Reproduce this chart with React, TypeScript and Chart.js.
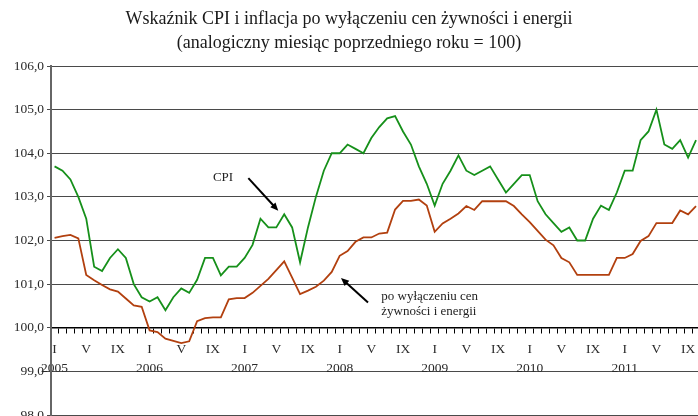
import React, { useEffect, useRef } from 'react';
import { Chart, registerables } from 'chart.js';

Chart.register(...registerables);

// ---- data (year-on-year indices, same month of previous year = 100) ----
const YEARS = [2005, 2006, 2007, 2008, 2009, 2010, 2011];
const MONTH_MARKS = ['I', '', '', '', 'V', '', '', '', 'IX', '', '', ''];

const CPI_2005 = [103.7, 103.6, 103.4, 103.0, 102.5, 101.4, 101.3, 101.6, 101.8, 101.6, 101.0, 100.7];
const CPI_2006 = [100.6, 100.7, 100.4, 100.7, 100.9, 100.8, 101.1, 101.6, 101.6, 101.2, 101.4, 101.4];
const CPI_2007 = [101.6, 101.9, 102.5, 102.3, 102.3, 102.6, 102.3, 101.5, 102.3, 103.0, 103.6, 104.0];
const CPI_2008 = [104.0, 104.2, 104.1, 104.0, 104.35, 104.6, 104.8, 104.85, 104.5, 104.2, 103.7, 103.3];
const CPI_2009 = [102.8, 103.3, 103.6, 103.95, 103.6, 103.5, 103.6, 103.7, 103.4, 103.1, 103.3, 103.5];
const CPI_2010 = [103.5, 102.9, 102.6, 102.4, 102.2, 102.3, 102.0, 102.0, 102.5, 102.8, 102.7, 103.1];
const CPI_2011 = [103.6, 103.6, 104.3, 104.5, 105.0, 104.2, 104.1, 104.3, 103.9, 104.3];

const CORE_2005 = [102.06, 102.1, 102.13, 102.05, 101.21, 101.09, 100.98, 100.88, 100.83, 100.67, 100.51, 100.48];
const CORE_2006 = [99.94, 99.9, 99.75, 99.7, 99.65, 99.69, 100.15, 100.22, 100.24, 100.24, 100.65, 100.68];
const CORE_2007 = [100.68, 100.8, 100.96, 101.12, 101.32, 101.52, 101.15, 100.77, 100.85, 100.94, 101.08, 101.28];
const CORE_2008 = [101.65, 101.76, 101.97, 102.07, 102.07, 102.16, 102.18, 102.71, 102.91, 102.91, 102.94, 102.8];
const CORE_2009 = [102.2, 102.39, 102.5, 102.62, 102.79, 102.7, 102.9, 102.9, 102.9, 102.9, 102.79, 102.6];
const CORE_2010 = [102.42, 102.22, 102.02, 101.89, 101.6, 101.5, 101.21, 101.21, 101.21, 101.21, 101.21, 101.6];
const CORE_2011 = [101.6, 101.69, 101.99, 102.1, 102.4, 102.4, 102.4, 102.69, 102.6, 102.79];

const CPI = [...CPI_2005, ...CPI_2006, ...CPI_2007, ...CPI_2008, ...CPI_2009, ...CPI_2010, ...CPI_2011];
const CORE = [...CORE_2005, ...CORE_2006, ...CORE_2007, ...CORE_2008, ...CORE_2009, ...CORE_2010, ...CORE_2011];

const TITLE_LINES = [
  'Wskaźnik CPI i inflacja po wyłączeniu cen żywności i energii',
  '(analogiczny miesiąc poprzedniego roku = 100)',
];
const CPI_NOTE = 'CPI';
const CORE_NOTE = ['po wyłączeniu cen', 'żywności i energii'];

const Y_MIN = 98;
const Y_MAX = 106;
const X_MIN = -0.45;
const X_MAX = 81.25;

const FONT = '"Liberation Serif", "Times New Roman", serif';

function drawArrow(ctx: CanvasRenderingContext2D, x1: number, y1: number, x2: number, y2: number) {
  const ang = Math.atan2(y2 - y1, x2 - x1);
  const head = 8;
  const half = 3.5;
  ctx.beginPath();
  ctx.moveTo(x1, y1);
  ctx.lineTo(x2 - Math.cos(ang) * head * 0.6, y2 - Math.sin(ang) * head * 0.6);
  ctx.stroke();
  ctx.beginPath();
  ctx.moveTo(x2, y2);
  ctx.lineTo(x2 - Math.cos(ang) * head - Math.sin(ang) * half, y2 - Math.sin(ang) * head + Math.cos(ang) * half);
  ctx.lineTo(x2 - Math.cos(ang) * head + Math.sin(ang) * half, y2 - Math.sin(ang) * head - Math.cos(ang) * half);
  ctx.closePath();
  ctx.fill();
}

const notesPlugin = {
  id: 'notes',
  afterDatasetsDraw(chart: any) {
    const { ctx, scales } = chart;
    const px = (v: number) => scales.x.getPixelForValue(v);
    const py = (v: number) => scales.y.getPixelForValue(v);
    ctx.save();
    ctx.fillStyle = '#222';
    ctx.strokeStyle = '#000';
    ctx.lineWidth = 2;
    ctx.font = '13px ' + FONT;
    ctx.textAlign = 'left';
    ctx.textBaseline = 'middle';
    ctx.fillText(CPI_NOTE, px(20.0), py(103.44));
    ctx.fillText(CORE_NOTE[0], px(41.26), py(100.71));
    ctx.fillText(CORE_NOTE[1], px(41.26), py(100.38));
    ctx.fillStyle = '#000';
    drawArrow(ctx, px(24.47), py(103.43), px(28.25), py(102.68));
    drawArrow(ctx, px(39.58), py(100.58), px(36.17), py(101.14));
    ctx.restore();
  },
};

export default function App() {
  const ref = useRef<HTMLCanvasElement | null>(null);

  useEffect(() => {
    if (!ref.current) return;
    const chart = new Chart(ref.current, {
      type: 'line',
      data: {
        datasets: [
          {
            label: 'CPI',
            data: CPI.map((v, i) => ({ x: i, y: v })),
            borderColor: '#16901a',
            borderWidth: 1.8,
            pointRadius: 0,
            tension: 0,
            fill: false,
          },
          {
            label: 'po wyłączeniu cen żywności i energii',
            data: CORE.map((v, i) => ({ x: i, y: v })),
            borderColor: '#b2400f',
            borderWidth: 1.8,
            pointRadius: 0,
            tension: 0,
            fill: false,
          },
        ],
      },
      options: {
        animation: false,
        responsive: false,
        maintainAspectRatio: false,
        layout: { padding: { left: 0, right: 0, top: 0, bottom: 1 } },
        plugins: {
          legend: { display: false },
          tooltip: { enabled: false },
          title: {
            display: true,
            text: TITLE_LINES,
            color: '#1a1a1a',
            font: { family: FONT, size: 18, weight: 'normal', lineHeight: '24px' },
            padding: { top: 7, bottom: 11 },
          },
        },
        scales: {
          x: {
            type: 'linear',
            min: X_MIN,
            max: X_MAX,
            bounds: 'data',
            position: { y: 100 },
            afterBuildTicks: (scale: any) => {
              const t = [];
              for (let i = 0; i < CPI.length; i++) t.push({ value: i });
              scale.ticks = t;
            },
            afterFit: (scale: any) => {
              scale.height = 0;
              scale.paddingLeft = 0;
              scale.paddingRight = 0;
            },
            grid: {
              display: true,
              drawOnChartArea: false,
              drawTicks: true,
              tickLength: 5,
              offset: true,
              color: '#000',
              lineWidth: 1,
            },
            border: { display: true, color: '#000', width: 1.5 },
            ticks: {
              autoSkip: false,
              maxRotation: 0,
              minRotation: 0,
              padding: 7.5,
              color: '#2a2a2a',
              font: { family: FONT, size: 13.5, lineHeight: '19px' },
              callback: (value: any) => {
                const i = Math.round(Number(value));
                const m = MONTH_MARKS[i % 12];
                if (i % 12 === 0) return [m, String(YEARS[i / 12])];
                return m;
              },
            },
          },
          y: {
            type: 'linear',
            min: Y_MIN,
            max: Y_MAX,
            afterFit: (scale: any) => {
              scale.width = 51;
              scale.paddingTop = 0;
              scale.paddingBottom = 0;
            },
            grid: {
              color: '#4a4a4a',
              lineWidth: 1,
              drawTicks: true,
              tickLength: 4,
            },
            border: { display: true, color: '#666', width: 2 },
            ticks: {
              stepSize: 1,
              padding: 3,
              color: '#2a2a2a',
              font: { family: FONT, size: 13.5 },
              callback: (v: any) => Number(v).toFixed(1).replace('.', ','),
            },
          },
        },
      },
      plugins: [notesPlugin],
    } as any);
    return () => chart.destroy();
  }, []);

  return (
    <div style={{ position: 'fixed', left: 0, top: 0, width: 698, height: 416, background: '#fff' }}>
      <canvas ref={ref} width={698} height={416} style={{ display: 'block' }} />
    </div>
  );
}
